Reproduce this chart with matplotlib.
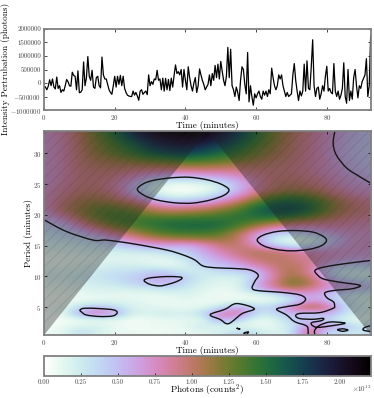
import numpy as np
import matplotlib
matplotlib.use("Agg")
import matplotlib.pyplot as plt
from matplotlib.path import Path
from matplotlib.patches import PathPatch

plt.rcParams['font.family'] = ['cmr10', 'DejaVu Serif']
plt.rcParams['mathtext.fontset'] = 'cm'
plt.rcParams['axes.formatter.use_mathtext'] = True
plt.rcParams['hatch.linewidth'] = 0.3

# light curve, thousands of photons, one value every 0.4 min
flux_k = [
    -100, -150, -250, -120, 120, -100, 150, -150, -220, 220,
    -200, -100, -350, -250, -300, -100, 130, 50, -100, -120,
    400, 280, 250, -250, 450, -360, -340, -250, 780, -100,
    200, 980, 250, 100, 470, -150, -200, 200, 250, -100,
    -180, 960, 300, 150, 150, -50, -250, -350, -420, -100,
    250, -150, 250, -50, 280, -100, 250, -200, -350, -450,
    -480, -500, -500, -300, -450, -350, -480, -640, -300, -250,
    -420, -350, -300, -430, 300, -100, 50, -50, 150, 120,
    470, 100, 150, -250, 180, -300, 170, -250, 130, -280,
    180, -150, 280, 670, 350, 420, 300, 500, -150, 500,
    100, -250, 600, 200, -100, -300, 0, 200, -350, -100,
    520, 300, 100, -50, -250, -150, -50, 300, -100, 350,
    100, 650, 200, 700, 150, 800, 450, 100, -100, 250,
    1320, 200, 1250, -100, -250, -500, -150, -350, -650, 100,
    600, 500, -50, -400, 1130, -700, -100, -500, -820, -400,
    -550, -400, -300, -500, -600, -300, -450, -300, -500, -250,
    -400, 550, 200, -100, -250, -100, 300, 150, 300, -100,
    -300, -500, -350, -500, -450, -400, 300, 720, 100, -300,
    -650, -300, -480, -300, 700, -300, 820, -200, -250, 600,
    1600, -100, -500, -200, -150, -600, -400, -100, -300, 250,
    620, -300, -200, -350, -400, 720, -300, -500, -300, -600,
    -450, -200, 750, -500, -750, 500, -650, -300, -600, 200,
    500, -100, -550, -100, -200, 50, 180, 300, 900, -500,
    -100, 1750,
]

# wavelet power, 1e12 counts^2
# columns every 5 min from 0 to 95, rows every 1 min of period from 34 down to 0
power = [
    [.7, .8, 1.05, 1.3, 1.55, 1.9, 2.1, 2.2, 2.2, 2.2, 2.05, 1.8, 1.5, 1.25, 1.05, .9, .75, .6, .5, .45],
    [.7, .79, 1.02, 1.26, 1.5, 1.8, 2.0, 2.1, 2.15, 2.1, 1.95, 1.72, 1.45, 1.22, 1.02, .88, .73, .58, .49, .45],
    [.68, .78, 1.0, 1.22, 1.42, 1.65, 1.9, 2.0, 2.05, 2.0, 1.85, 1.65, 1.4, 1.2, 1.0, .87, .72, .57, .48, .45],
    [.68, .78, .99, 1.18, 1.34, 1.5, 1.75, 1.85, 1.9, 1.82, 1.7, 1.52, 1.32, 1.15, .98, .86, .72, .56, .47, .45],
    [.68, .78, .98, 1.15, 1.28, 1.4, 1.6, 1.7, 1.75, 1.65, 1.55, 1.4, 1.25, 1.1, .97, .85, .72, .55, .47, .45],
    [.68, .78, .96, 1.08, 1.15, 1.25, 1.32, 1.38, 1.45, 1.4, 1.35, 1.25, 1.15, 1.03, .95, .85, .72, .57, .48, .45],
    [.68, .78, .95, 1.02, 1.05, 1.05, 1.08, 1.1, 1.15, 1.15, 1.1, 1.05, 1.02, .97, .93, .85, .73, .6, .5, .47],
    [.68, .78, .93, .97, .97, .9, .85, .8, .82, .85, .85, .88, .93, .95, .93, .85, .75, .63, .53, .5],
    [.68, .8, .92, .95, .9, .75, .55, .42, .45, .5, .58, .68, .85, .95, .97, .9, .8, .68, .58, .55],
    [.68, .82, .93, .95, .83, .6, .3, .12, .1, .15, .3, .55, .8, .98, 1.03, .97, .85, .72, .63, .6],
    [.7, .85, .97, .98, .87, .55, .2, .03, .02, .05, .25, .55, .85, 1.03, 1.1, 1.05, .93, .78, .7, .67],
    [.72, .9, 1.02, 1.05, .95, .7, .4, .2, .2, .28, .5, .75, 1.05, 1.3, 1.4, 1.3, 1.1, .9, .8, .75],
    [.72, .95, 1.1, 1.18, 1.12, 1.0, .75, .55, .55, .65, .8, 1.05, 1.35, 1.55, 1.6, 1.5, 1.25, 1.02, .9, .85],
    [.7, .98, 1.15, 1.28, 1.3, 1.2, 1.05, .92, .95, 1.0, 1.15, 1.3, 1.55, 1.7, 1.72, 1.55, 1.25, 1.05, .95, .9],
    [.6, .85, 1.1, 1.3, 1.38, 1.35, 1.25, 1.2, 1.25, 1.28, 1.35, 1.45, 1.55, 1.6, 1.55, 1.38, 1.15, .98, .9, .85],
    [.5, .6, .95, 1.2, 1.35, 1.4, 1.45, 1.5, 1.5, 1.52, 1.5, 1.45, 1.35, 1.25, 1.15, 1.05, .95, .88, .82, .8],
    [.4, .48, .7, .98, 1.2, 1.3, 1.4, 1.5, 1.55, 1.55, 1.5, 1.3, 1.05, .85, .75, .75, .8, .8, .78, .75],
    [.3, .38, .5, .68, .9, 1.05, 1.25, 1.35, 1.38, 1.38, 1.3, 1.05, .7, .45, .4, .45, .6, .7, .72, .72],
    [.25, .3, .35, .45, .6, .8, .95, 1.05, 1.08, 1.12, 1.15, 1.0, .6, .2, .08, .12, .4, .65, .72, .72],
    [.2, .22, .25, .3, .38, .5, .6, .62, .55, .7, .95, 1.0, .75, .45, .25, .3, .5, .68, .75, .75],
    [.15, .15, .18, .2, .22, .25, .28, .35, .42, .6, .8, .95, 1.05, 1.0, .9, .8, .75, .72, .7, .7],
    [.1, .1, .12, .12, .15, .15, .12, .15, .3, .5, .65, .85, 1.0, 1.02, .95, .85, .75, .68, .62, .6],
    [.1, .1, .15, .18, .2, .2, .15, .08, .2, .45, .5, .62, .85, .98, 1.02, .9, .62, .45, .5, .55],
    [.15, .15, .2, .25, .3, .3, .38, .35, .2, .25, .42, .45, .55, .9, 1.1, .85, .4, .25, .25, .3],
    [.18, .2, .25, .3, .35, .4, .55, .6, .4, .25, .2, .2, .42, .85, 1.15, .95, .5, .25, .2, .2],
    [.15, .15, .2, .25, .3, .4, .52, .6, .35, .2, .15, .15, .58, .9, 1.3, 1.1, .72, .6, .5, .35],
    [.1, .12, .15, .2, .2, .22, .25, .3, .25, .15, .1, .15, .55, .85, 1.02, .9, .68, .62, .55, .4],
    [.05, .08, .1, .12, .12, .1, .1, .12, .18, .12, .08, .08, .12, .2, .5, .65, .5, .25, .2, .2],
    [.05, .08, .1, .12, .15, .15, .12, .1, .12, .1, .08, .1, .1, .12, .25, .7, .55, .3, .2, .2],
    [.05, .08, .35, .55, .35, .18, .15, .12, .1, .12, .3, .7, .35, .42, .85, 1.2, .9, .35, .2, .2],
    [.05, .1, .6, .9, .65, .2, .2, .25, .2, .38, .85, .85, .3, .3, .62, .3, .65, .3, .2, .2],
    [.03, .05, .08, .1, .1, .05, .08, .12, .12, .1, .7, .4, .1, .15, .42, .55, .35, .12, .1, .1],
    [.05, .08, .15, .2, .12, .05, .1, .08, .15, .25, .15, .12, .1, .1, .3, .68, .7, .5, .2, .6],
    [.08, .1, .38, .2, .1, .1, .08, .08, .1, .15, .2, .4, .3, .15, .25, 1.1, .3, .4, .2, .7],
    [.1, .12, .3, .2, .12, .1, .1, .1, .12, .15, .2, .45, .3, .15, .25, 1.05, .3, .2, .2, .7],
]

# significance contours, (time, period)
contours = [
    [(0, 19.2), (6.3, 17.3), (13.9, 15.9), (17.6, 15.9), (25.2, 15.3), (34.6, 14.3), (39.3, 13.5),
     (42.6, 12.7), (45, 11.7), (48.8, 11.4), (53.5, 11.3), (58.2, 11.06), (60.6, 10.25), (59.6, 9.17),
     (58.9, 8.1), (60.6, 7.7), (67.6, 7.4), (72.4, 7.0), (74, 6.3), (72.4, 5.5), (68.6, 5.1),
     (65.8, 4.67), (68.6, 3.75), (70.9, 2.67), (74.2, 2.0), (74.7, 1.3), (74.7, 0.5)],
    [(92.5, 12.6), (85.2, 12.08), (79, 11.5), (76.7, 11), (77.2, 10.35), (79, 9.6), (83.3, 9.1),
     (89.4, 8.56), (87.1, 8), (82.4, 7.75), (79.5, 7.37), (80, 6.56), (81.9, 5.86), (82.2, 5.2),
     (81.8, 4.84), (78, 4.13), (72.4, 4.0), (71.2, 3.6), (72.4, 3.16), (76.1, 3.05), (79, 3.2),
     (78.5, 2.83), (75.7, 2.5), (76.1, 1.97), (78, 1.75), (84.6, 2.3), (84.6, 2.5), (80.8, 2.6),
     (78, 2.07), (76.6, 1.3), (76.6, 0.5)],
    [(82.3, 33.6), (81.8, 31.6), (82.7, 29.7), (85.6, 27.6), (89.3, 26.2), (92.5, 25.1)],
    [(26.4, 24.1), (28, 25), (31, 25.6), (36, 26.0), (41, 26.1), (46, 25.7), (50, 25.0), (52.3, 24.1),
     (51, 23.2), (47, 22.4), (42, 21.9), (37, 21.95), (32, 22.4), (28.5, 23.1), (26.4, 24.1)],
    [(60.3, 15.9), (62, 16.7), (66, 17.3), (71, 17.45), (76, 17.2), (79, 16.5), (79.9, 15.8), (78.5, 15),
     (75, 14.4), (70, 14.15), (65.5, 14.4), (62, 15), (60.3, 15.9)],
    [(28.3, 9.33), (29.4, 9.7), (31.8, 9.87), (34.6, 9.98), (38.4, 9.92), (39, 9.65), (37.5, 9.17),
     (35.1, 8.73), (32.7, 8.46), (29.9, 8.73), (28.3, 9.33)],
    [(10.2, 4.57), (11.5, 4.84), (15.8, 4.78), (19.7, 4.57), (20.7, 4.13), (19.5, 3.6), (15.8, 3.5),
     (12, 3.75), (10.6, 4.24), (10.2, 4.57)],
    [(47, 3.8), (51.2, 4.67), (54.5, 5.6), (59.5, 4.77), (56, 3.96), (52.2, 2.34), (49.8, 3.04), (47, 3.8)],
    [(54.5, 1.6), (55.5, 1.45), (54.5, 1.6)],
    [(56.5, 0.8), (57.8, 1.0), (57.3, 0.6), (56.5, 0.8)],
    [(83, 1.35), (84.5, 1.5), (86, 1.3), (84.5, 1.1), (83, 1.35)],
    [(92.5, 2.0), (90.8, 1.75), (90.3, 1.3), (92.5, 1.05)],
]

# cone of influence apex and corners
coi_left = [(0, 0.5), (46.2, 33.6), (0, 33.6)]
coi_right = [(46.2, 33.6), (92.5, 0.5), (92.5, 33.6)]

x_ticks = [0, 20, 40, 60, 80]
flux_ticks = [-1000000, -500000, 0, 500000, 1000000, 1500000, 2000000]
flux_labels = ['$-$1000000', '$-$500000', '0', '500000', '1000000', '1500000', '2000000']
period_ticks = [5, 10, 15, 20, 25, 30]
cbar_ticks = [0.0, 0.25, 0.5, 0.75, 1.0, 1.25, 1.5, 1.75, 2.0]
cbar_labels = ['0.00', '0.25', '0.50', '0.75', '1.00', '1.25', '1.50', '1.75', '2.00']


def style(ax):
    for s in ax.spines.values():
        s.set_color('#808080')
        s.set_linewidth(1.3)
    ax.tick_params(direction='in', top=True, right=True, labelsize=5, length=2, width=0.5,
                   labelcolor='#444444', pad=2)


def smooth_path(pts):
    # bezier through the points so the contours are not angular
    p = np.array(pts, dtype=float)
    closed = len(p) > 3 and np.allclose(p[0], p[-1])
    verts, codes = [p[0]], [Path.MOVETO]
    n = len(p)
    for i in range(n - 1):
        if closed:
            a, d = p[(i - 1) % (n - 1)], p[(i + 2) % (n - 1)]
        else:
            a, d = p[max(i - 1, 0)], p[min(i + 2, n - 1)]
        verts += [p[i] + (p[i + 1] - a) / 6, p[i + 1] - (d - p[i]) / 6, p[i + 1]]
        codes += [Path.CURVE4] * 3
    return Path(verts, codes)


W, H = 374.0, 398.0


def box(left, top, right, bottom):
    return [left / W, 1 - bottom / H, (right - left) / W, (bottom - top) / H]


fig = plt.figure(figsize=(W / 100, H / 100), dpi=100)

ax1 = fig.add_axes(box(44, 29, 371, 110))
ax1.plot(0.4 * np.arange(len(flux_k)), np.array(flux_k) * 1000.0, color='k', lw=0.9)
ax1.set_xlim(0, 92.5)
ax1.set_ylim(-1000000, 2000000)
ax1.set_xticks(x_ticks)
ax1.set_yticks(flux_ticks, labels=flux_labels)
style(ax1)
ax1.set_xlabel('Time (minutes)', fontsize=6.6, labelpad=-0.5)
fig.text(5.5 / W, 1 - 69 / H, 'Intensity Pertrubation (photons)', rotation=90, fontsize=6.6,
         ha='center', va='center')

ax2 = fig.add_axes(box(44, 131, 371, 335))
img = ax2.imshow(np.array(power) * 1e12, cmap='cubehelix_r', vmin=0, vmax=2.21e12, aspect='auto',
                 interpolation='bicubic', extent=(-2.5, 97.5, -0.5, 34.5))
for c in contours:
    ax2.add_patch(PathPatch(smooth_path(c), fill=False, edgecolor='#111111', lw=1.0))
for part in (coi_left, coi_right):
    part = np.array(part)
    ax2.fill(part[:, 0], part[:, 1], facecolor=(0.12, 0.12, 0.12, 0.36),
             edgecolor=(0.2, 0.2, 0.2, 0.3), hatch='///', lw=0)
ax2.set_xlim(0, 92.5)
ax2.set_ylim(0.5, 33.6)
ax2.set_xticks(x_ticks)
ax2.set_yticks(period_ticks)
style(ax2)
ax2.set_xlabel('Time (minutes)', fontsize=6.6, labelpad=-0.5)
ax2.set_ylabel('Period (minutes)', fontsize=6.6, labelpad=-0.5)

cax = fig.add_axes(box(44, 356, 371, 376))
cbar = fig.colorbar(img, cax=cax, orientation='horizontal')
cbar.set_ticks(np.array(cbar_ticks) * 1e12, labels=cbar_labels)
cbar.outline.set_edgecolor('#808080')
cbar.outline.set_linewidth(1.3)
cax.tick_params(direction='in', labelsize=5, length=2, width=0.5, labelcolor='#444444', pad=2)
cbar.set_label('Photons (counts$^2$)', fontsize=6.6, labelpad=-1)
fig.text(371 / W, 1 - 389 / H, r'$\times 10^{12}$', fontsize=5, ha='right', va='center', color='#444444')

fig.savefig('out.png', dpi=100)
